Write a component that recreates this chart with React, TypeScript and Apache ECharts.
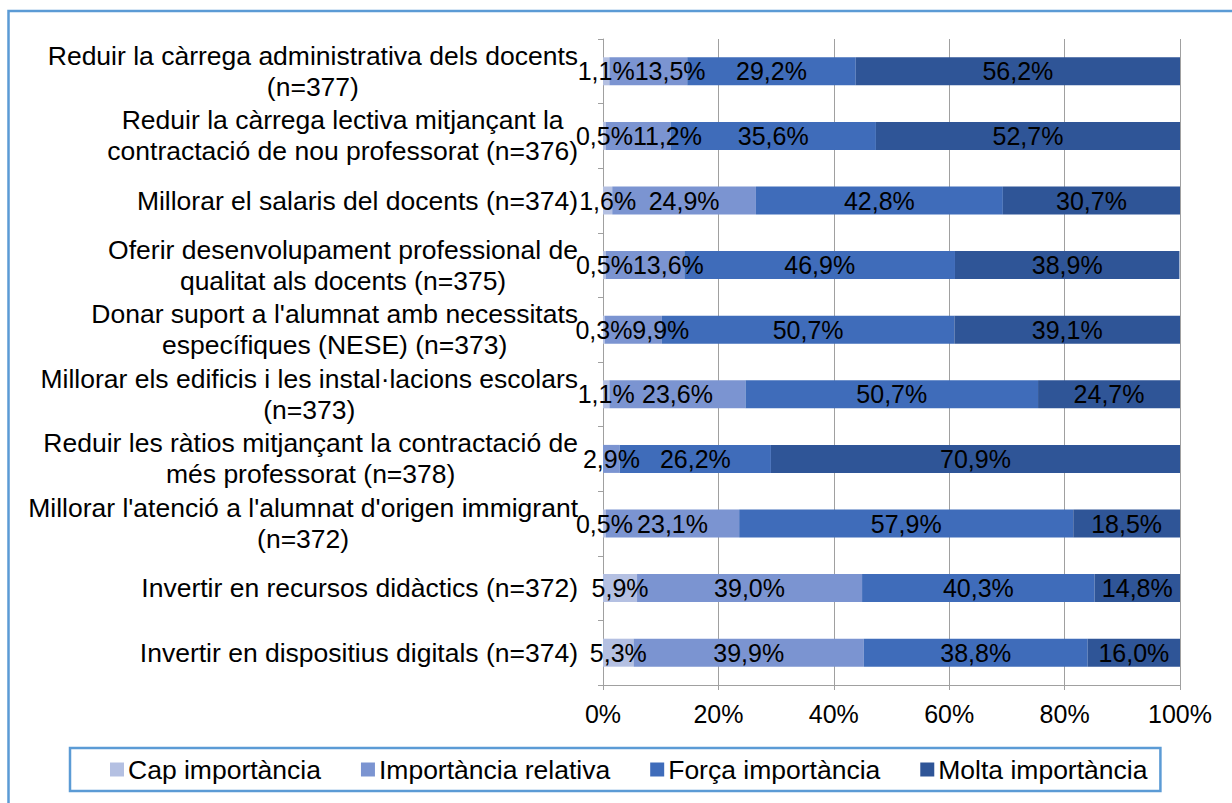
import React, { useEffect, useRef } from "react";
import * as echarts from "echarts";

const categories = [
  "Reduir la càrrega administrativa dels docents\n(n=377)",
  "Reduir la càrrega lectiva mitjançant la\ncontractació de nou professorat (n=376)",
  "Millorar el salaris del docents (n=374)",
  "Oferir desenvolupament professional de\nqualitat als docents (n=375)",
  "Donar suport a l'alumnat amb necessitats\nespecífiques (NESE) (n=373)",
  "Millorar els edificis i les instal·lacions escolars\n(n=373)",
  "Reduir les ràtios mitjançant la contractació de\nmés professorat (n=378)",
  "Millorar l'atenció a l'alumnat d'origen immigrant\n(n=372)",
  "Invertir en recursos didàctics (n=372)",
  "Invertir en dispositius digitals (n=374)",
];

const seriesNames = [
  "Cap importància",
  "Importància relativa",
  "Força importància",
  "Molta importància",
];

const capImportancia = [1.1, 0.5, 1.6, 0.5, 0.3, 1.1, 0, 0.5, 5.9, 5.3];
const importanciaRelativa = [13.5, 11.2, 24.9, 13.6, 9.9, 23.6, 2.9, 23.1, 39.0, 39.9];
const forcaImportancia = [29.2, 35.6, 42.8, 46.9, 50.7, 50.7, 26.2, 57.9, 40.3, 38.8];
const moltaImportancia = [56.2, 52.7, 30.7, 38.9, 39.1, 24.7, 70.9, 18.5, 14.8, 16.0];

const seriesValues = [capImportancia, importanciaRelativa, forcaImportancia, moltaImportancia];
const colors = ["#b4c0e2", "#7b94d1", "#3f6cba", "#2f5597"];

const FONT = "'Liberation Sans', Arial, sans-serif";
const LABEL_SIZE = 25;
const CAT_SIZE = 26.5;

const fmt = (v: number) => v.toFixed(1).replace(".", ",") + "%";

let measureCtx: CanvasRenderingContext2D | null = null;
function textWidth(t: string) {
  if (!measureCtx) {
    measureCtx = document.createElement("canvas").getContext("2d");
  }
  if (!measureCtx) return t.length * 12;
  measureCtx.font = `${LABEL_SIZE}px ${FONT}`;
  return measureCtx.measureText(t).width;
}

export default function App() {
  const ref = useRef<HTMLDivElement>(null);

  useEffect(() => {
    if (!ref.current) return;
    const chart = echarts.init(ref.current, undefined, { renderer: "svg" });
    chart.setOption({
      animation: false,
      backgroundColor: "#ffffff",
      textStyle: { fontFamily: FONT },
      graphic: [
        {
          type: "rect",
          shape: { x: 8.5, y: 11, width: 1400, height: 1000 },
          style: { fill: "none", stroke: "#5b9bd5", lineWidth: 2.5 },
          silent: true,
        },
      ],
      grid: { left: 603, right: 52, top: 39, bottom: 118, containLabel: false },
      xAxis: {
        type: "value",
        min: 0,
        max: 100,
        interval: 20,
        axisLine: { show: true, lineStyle: { color: "#a0a0a0", width: 1 } },
        axisTick: { show: true, length: 5, lineStyle: { color: "#a0a0a0" } },
        splitLine: { show: true, lineStyle: { color: "#a0a0a0", width: 1 } },
        axisLabel: {
          formatter: "{value}%",
          fontSize: LABEL_SIZE,
          color: "#000",
          fontFamily: FONT,
          margin: 16,
        },
      },
      yAxis: {
        type: "category",
        inverse: true,
        data: categories,
        axisLine: { show: true, lineStyle: { color: "#a0a0a0", width: 1 } },
        axisTick: { show: true, length: 5, lineStyle: { color: "#a0a0a0" } },
        axisLabel: {
          margin: 25,
          color: "#000",
          fontFamily: FONT,
          fontSize: CAT_SIZE,
          lineHeight: 31,
          formatter: (v: string) =>
            v
              .split("\n")
              .map((l) => `{c|${l}}`)
              .join("\n"),
          rich: {
            c: {
              align: "center",
              fontSize: CAT_SIZE,
              lineHeight: 31,
              fontFamily: FONT,
              color: "#000",
            },
          },
        },
      },
      legend: {
        left: 70,
        top: 748,
        data: seriesNames,
        itemWidth: 14,
        itemHeight: 14,
        itemGap: 40,
        padding: [8, 13, 8, 40],
        borderColor: "#5b9bd5",
        borderWidth: 2.5,
        icon: "rect",
        textStyle: { fontSize: CAT_SIZE, color: "#000", fontFamily: FONT, padding: [0, 0, 0, -1] },
      },
      series: seriesNames.map((name, i) => ({
        name,
        type: "bar",
        stack: "total",
        barWidth: 28,
        data: seriesValues[i],
        itemStyle: { color: colors[i] },
        label: {
          show: true,
          position: "inside",
          fontSize: LABEL_SIZE,
          color: "#000",
          fontFamily: FONT,
          formatter: (p: any) => (p.value === 0 ? "" : fmt(p.value)),
        },
        labelLayout:
          i === 1
            ? (params: any) => {
                const idx = params.dataIndex;
                const cap = capImportancia[idx];
                const rel = importanciaRelativa[idx];
                if (!cap || !rel || !params.rect || !params.labelRect) return {};
                const perUnit = params.rect.width / rel;
                const capCenter = params.rect.x - (cap * perUnit) / 2;
                const capRight = capCenter + textWidth(fmt(cap)) / 2;
                const overlap = capRight - params.labelRect.x;
                return overlap > 0 ? { dx: overlap } : {};
              }
            : undefined,
        emphasis: { disabled: true },
      })),
    });
    return () => chart.dispose();
  }, []);

  return (
    <div
      ref={ref}
      style={{ position: "fixed", left: 0, top: 0, width: 1232, height: 803 }}
    />
  );
}
